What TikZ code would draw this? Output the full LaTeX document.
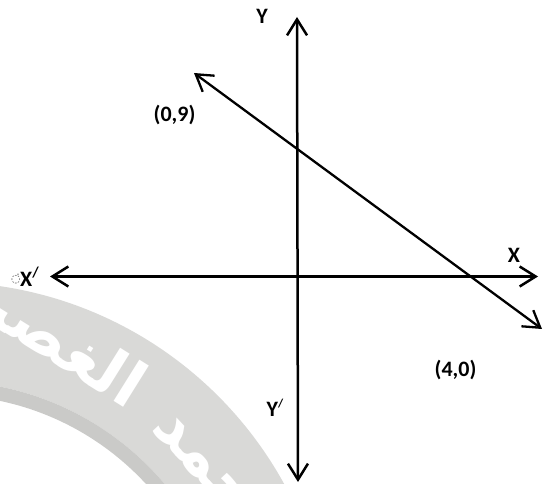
\documentclass[tikz,border=0pt]{standalone}
\usepackage{fontspec}
\setmainfont{Carlito}
\newfontfamily\dejavu{DejaVu Sans}
\newfontfamily\arabicfont[Script=Arabic]{DejaVu Sans}
\TeXXeTstate=1
\usetikzlibrary{arrows.meta}
\definecolor{wmlight}{HTML}{D9D9D7}
\definecolor{wmdark}{HTML}{CACAC8}
\newcommand{\primeslash}[1]{\raisebox{9pt}{\fontsize{#1}{#1}\selectfont /}}
\begin{document}
\begin{tikzpicture}[x=1pt,y=-1pt,
  axisline/.style={line width=2.5pt,
    {Straight Barb[length=16pt,width=20pt]}-{Straight Barb[length=16pt,width=20pt]}},
  lbl/.style={font=\fontsize{22}{26}\selectfont\bfseries, inner sep=0pt},
  wmtext/.style={text=white, inner sep=0pt, font=\fontsize{64}{70}\selectfont\bfseries}]
\useasboundingbox (0,0) rectangle (550,484);
% watermark
\begin{scope}
  \clip (0,0) rectangle (550,484);
  \fill[wmlight, even odd rule] (-57,671) circle (389) (-57,671) circle (290);
  \fill[wmdark, even odd rule] (-57,671) circle (290) (-57,671) circle (276);
  \begin{scope}[even odd rule]
    \clip (-57,671) circle (389) (-57,671) circle (290);
    \node[wmtext, rotate=-32, anchor=base east] (wmA) at (128,410) {\arabicfont\beginR الغصين\endR};
    \node[wmtext, rotate=-47, anchor=base west] (wmB) at (150,428) {\arabicfont\beginR محمد\endR};
  \end{scope}
\end{scope}
% axes and line
\coordinate (ytop) at (297,17);
\coordinate (ybot) at (298,482);
\coordinate (xleft) at (50,276.5);
\coordinate (xright) at (538,276.5);
\coordinate (dtop) at (194,73);
\coordinate (dbot) at (542,329);
\draw[axisline] (ybot) -- (ytop);
\draw[axisline] (xleft) -- (xright);
\draw[axisline, line width=2.3pt] (dtop) -- (dbot);
% labels
\node[lbl] (ylab) at (262,16) {Y};
\node[lbl] (p09) at (174.5,115) {(0,9)};
\node[lbl] (xlab) at (514,255) {X};
\node[lbl] (p40) at (455.5,370.5) {(4,0)};
\node[lbl, anchor=base west] (xplab) at (20,286.7) {X\primeslash{15}};
\node[lbl, anchor=base west] (yplab) at (266.5,417) {Y\primeslash{12}};
\node[inner sep=0pt, text=black!70, font=\dejavu\fontsize{11}{11}\selectfont] (mark) at (16,279) {◌̇};
\end{tikzpicture}
\end{document}
